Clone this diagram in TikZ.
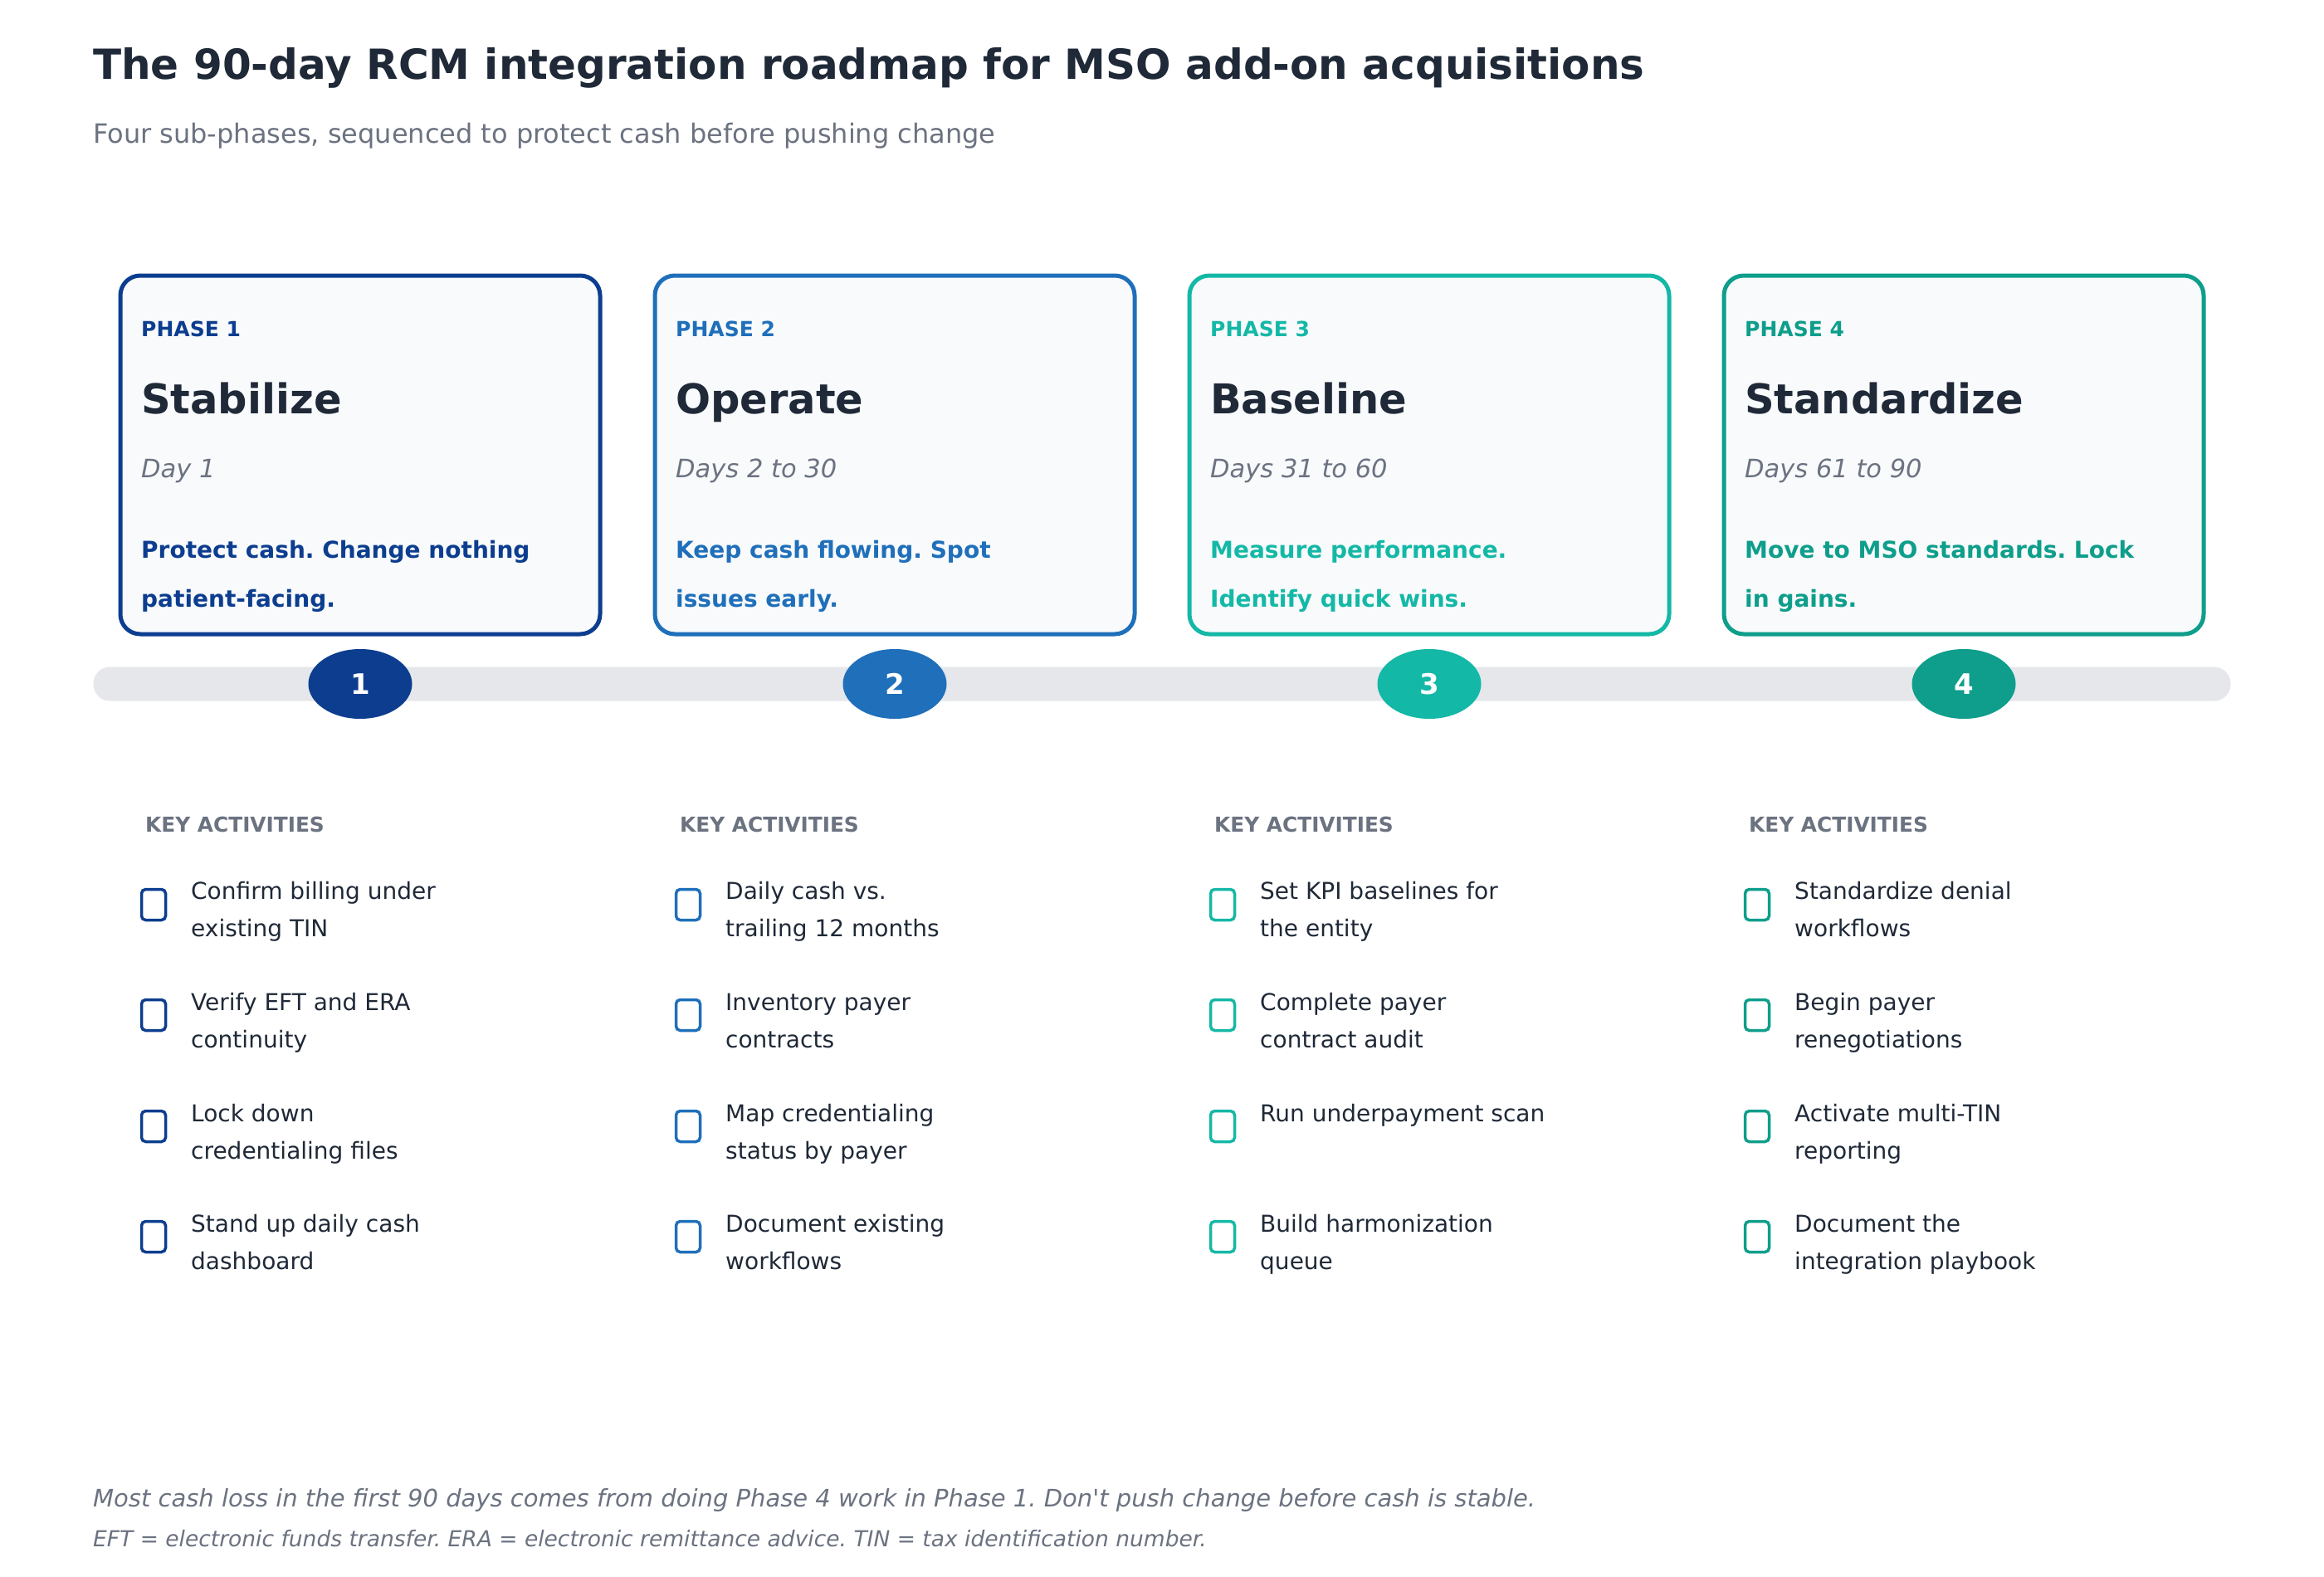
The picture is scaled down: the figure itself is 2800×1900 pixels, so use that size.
\documentclass[tikz,border=0pt]{standalone}
\usepackage{fontspec}
\setmainfont{DejaVu Sans}
\usetikzlibrary{shapes.geometric}

\definecolor{phaseone}{HTML}{0C3D8F}
\definecolor{phasetwo}{HTML}{1F6FBA}
\definecolor{phasethree}{HTML}{14B8A6}
\definecolor{phasefour}{HTML}{0E9E8B}
\definecolor{ink}{HTML}{1F2937}
\definecolor{muted}{HTML}{6B7280}
\definecolor{cardbg}{HTML}{F8FAFC}
\definecolor{trackgray}{HTML}{E5E7EB}

\newcommand{\fsz}[2]{\fontsize{#1}{#2}\selectfont}

\tikzset{
  txt/.style={inner sep=0pt, anchor=base west},
  card/.style={draw=#1, fill=cardbg, line width=5pt, rounded corners=24pt,
    minimum width=578pt, minimum height=432pt, inner sep=0pt},
  tag/.style={txt, font=\fsz{25}{30}\bfseries, text=#1},
  phasename/.style={txt, font=\fsz{49.5}{58}\bfseries, text=ink},
  days/.style={txt, font=\fsz{30.5}{36}\itshape, text=muted},
  goal/.style={txt, align=left, font=\fsz{28}{59}\bfseries, text=#1},
  dot/.style={ellipse, fill=#1, minimum width=125pt, minimum height=84pt,
    inner sep=0pt, text=white, font=\fsz{34}{40}\bfseries},
  keyhead/.style={txt, font=\fsz{24.8}{30}\bfseries, text=muted},
  tick/.style={draw=#1, line width=3.5pt, rounded corners=5pt,
    minimum width=29pt, minimum height=37pt, inner sep=0pt},
  item/.style={txt, align=left, font=\fsz{28}{45}, text=ink}
}

\begin{document}
\frenchspacing
\begin{tikzpicture}[x=1pt, y=-1pt]

	\useasboundingbox[fill=white] (0,0) rectangle (2800,1900);

	% heading
	\node[txt, font=\fsz{50}{60}\bfseries, text=ink] (title) at (112,96) {The 90-day RCM integration roadmap for MSO add-on acquisitions};
	\node[txt, font=\fsz{32}{38}, text=muted] (subtitle) at (112,172) {Four sub-phases, sequenced to protect cash before pushing change};

	% phase cards
	\node[card=phaseone] (card1) at (434,548) {};
	\node[card=phasetwo] (card2) at (1078,548) {};
	\node[card=phasethree] (card3) at (1722,548) {};
	\node[card=phasefour] (card4) at (2366,548) {};

	\node[tag=phaseone] (tag1) at (170,405) {PHASE 1};
	\node[tag=phasetwo] (tag2) at (814,405) {PHASE 2};
	\node[tag=phasethree] (tag3) at (1458,405) {PHASE 3};
	\node[tag=phasefour] (tag4) at (2102,405) {PHASE 4};

	\node[phasename] (name1) at (170,498) {Stabilize};
	\node[phasename] (name2) at (814,498) {Operate};
	\node[phasename] (name3) at (1458,498) {Baseline};
	\node[phasename] (name4) at (2102,498) {Standardize};

	\node[days] (days1) at (170,575) {Day 1};
	\node[days] (days2) at (814,575) {Days 2 to 30};
	\node[days] (days3) at (1458,575) {Days 31 to 60};
	\node[days] (days4) at (2102,575) {Days 61 to 90};

	% two-line nodes sit on their last line
	\node[goal=phaseone] (goal1) at (170,731) {Protect cash. Change nothing\\patient-facing.};
	\node[goal=phasetwo] (goal2) at (814,731) {Keep cash flowing. Spot\\issues early.};
	\node[goal=phasethree] (goal3) at (1458,731) {Measure performance.\\Identify quick wins.};
	\node[goal=phasefour] (goal4) at (2102,731) {Move to MSO standards. Lock\\in gains.};

	% timeline
	\node[fill=trackgray, rounded corners=20pt, minimum width=2575pt, minimum height=41pt, inner sep=0pt] (track) at (1400,824) {};
	\node[dot=phaseone] (dot1) at (434,824) {1};
	\node[dot=phasetwo] (dot2) at (1078,824) {2};
	\node[dot=phasethree] (dot3) at (1722,824) {3};
	\node[dot=phasefour] (dot4) at (2366,824) {4};

	% key activities
	\node[keyhead] (key1) at (175,1002) {KEY ACTIVITIES};
	\node[keyhead] (key2) at (819,1002) {KEY ACTIVITIES};
	\node[keyhead] (key3) at (1463,1002) {KEY ACTIVITIES};
	\node[keyhead] (key4) at (2107,1002) {KEY ACTIVITIES};

	\node[tick=phaseone] (box11) at (185,1090) {};
	\node[tick=phaseone] (box12) at (185,1223) {};
	\node[tick=phaseone] (box13) at (185,1357) {};
	\node[tick=phaseone] (box14) at (185,1490) {};
	\node[item] (act11) at (230,1128) {Confirm billing under\\existing TIN};
	\node[item] (act12) at (230,1262) {Verify EFT and ERA\\continuity};
	\node[item] (act13) at (230,1396) {Lock down\\credentialing files};
	\node[item] (act14) at (230,1529) {Stand up daily cash\\dashboard};

	\node[tick=phasetwo] (box21) at (829,1090) {};
	\node[tick=phasetwo] (box22) at (829,1223) {};
	\node[tick=phasetwo] (box23) at (829,1357) {};
	\node[tick=phasetwo] (box24) at (829,1490) {};
	\node[item] (act21) at (874,1128) {Daily cash vs.\\trailing 12 months};
	\node[item] (act22) at (874,1262) {Inventory payer\\contracts};
	\node[item] (act23) at (874,1396) {Map credentialing\\status by payer};
	\node[item] (act24) at (874,1529) {Document existing\\workflows};

	\node[tick=phasethree] (box31) at (1473,1090) {};
	\node[tick=phasethree] (box32) at (1473,1223) {};
	\node[tick=phasethree] (box33) at (1473,1357) {};
	\node[tick=phasethree] (box34) at (1473,1490) {};
	\node[item] (act31) at (1518,1128) {Set KPI baselines for\\the entity};
	\node[item] (act32) at (1518,1262) {Complete payer\\contract audit};
	\node[item] (act33) at (1518,1351) {Run underpayment scan};
	\node[item] (act34) at (1518,1529) {Build harmonization\\queue};

	\node[tick=phasefour] (box41) at (2117,1090) {};
	\node[tick=phasefour] (box42) at (2117,1223) {};
	\node[tick=phasefour] (box43) at (2117,1357) {};
	\node[tick=phasefour] (box44) at (2117,1490) {};
	\node[item] (act41) at (2162,1128) {Standardize denial\\workflows};
	\node[item] (act42) at (2162,1262) {Begin payer\\renegotiations};
	\node[item] (act43) at (2162,1396) {Activate multi-TIN\\reporting};
	\node[item] (act44) at (2162,1529) {Document the\\integration playbook};

	% footnotes
	\node[txt, font=\fsz{29}{34}\itshape, text=muted] (note) at (112,1815) {Most cash loss in the first 90 days comes from doing Phase 4 work in Phase 1. Don\textquotesingle t push change before cash is stable.};
	\node[txt, font=\fsz{26.5}{31}\itshape, text=muted] (abbr) at (112,1863) {EFT = electronic funds transfer. ERA = electronic remittance advice. TIN = tax identification number.};

\end{tikzpicture}
\end{document}
